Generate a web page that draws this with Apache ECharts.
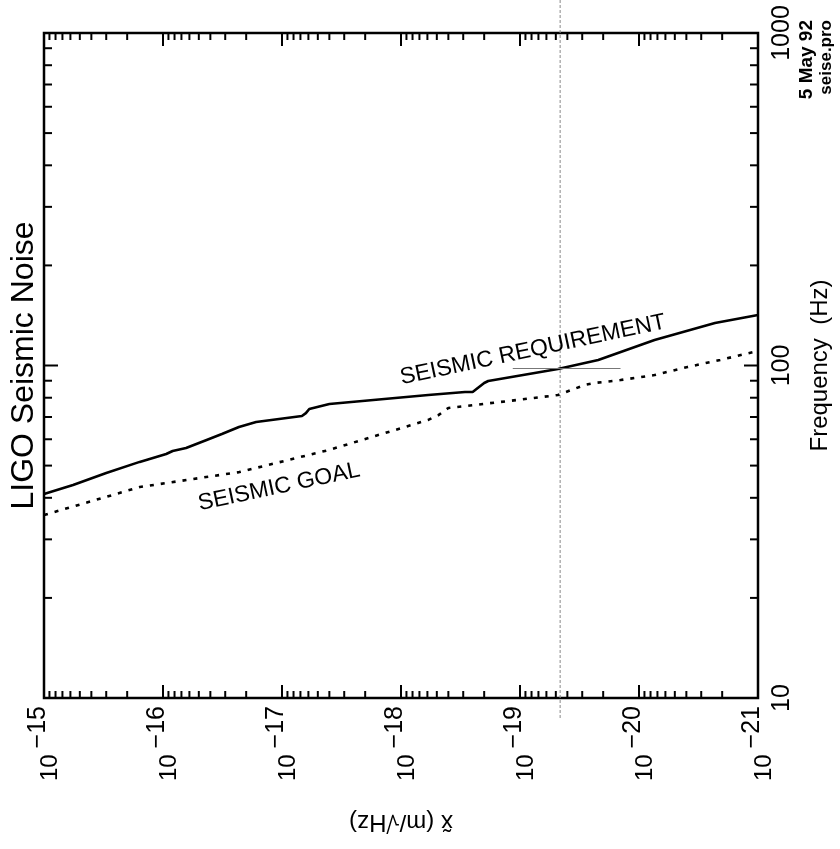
<!DOCTYPE html>
<html>
<head>
<meta charset="utf-8">
<script src="https://cdn.jsdelivr.net/npm/echarts@6/dist/echarts.min.js"></script>
<style>
  html, body { margin: 0; padding: 0; background: #fff; }
  #chart { width: 840px; height: 849px; }
</style>
</head>
<body>
<div id="chart"></div>
<script>
// displacement noise x~ (m/sqrt(Hz)) vs frequency (Hz), page is rotated
const requirement = [
  [1e-15, 41.1], [5.7e-16, 43.7], [3.0e-16, 47.5], [1.57e-16, 51.3],
  [9.4e-17, 54.2], [8.3e-17, 55.3], [6.4e-17, 56.5], [4.3e-17, 59.7],
  [3.2e-17, 62.2], [2.3e-17, 65.3], [1.65e-17, 67.6], [6.8e-18, 70.5],
  [6.3e-18, 71.9], [5.9e-18, 74.0], [4.0e-18, 76.6], [5.9e-19, 81.5],
  [2.9e-19, 83.2], [2.5e-19, 83.2], [2.0e-19, 88.6], [1.85e-19, 89.8],
  [4.8e-20, 97.6], [2.2e-20, 103.9], [7.4e-21, 119.3], [2.3e-21, 134.2],
  [1e-21, 141.9]
];
const goal = [
  [1e-15, 35.5], [1.57e-16, 43.1], [2.29e-17, 47.8], [4.04e-18, 55.7],
  [5.9e-19, 68.6], [4.85e-19, 70.9], [4.0e-19, 74.5], [1.04e-19, 78.8],
  [4.8e-20, 81.5], [2.86e-20, 87.4], [2.36e-20, 88.6], [1.43e-20, 90.4],
  [7.4e-21, 93.6], [3.9e-21, 99.0], [2.08e-21, 103.9], [1e-21, 110.6]
];
const ampExponents = [-15, -16, -17, -18, -19, -20, -21];
const freqDecades = [10, 100, 1000];
const markAmp = 4.6e-20;
const markFreq = 98;
const markSpan = [1.15e-19, 1.43e-20];

const FONT = 'Liberation Sans, Arial, sans-serif';

// echarts rounds to 20 decimals, so the amplitude axis runs in units of 1e-21 m
const UNIT_EXP = -21;
const toUnit = v => Number((v / Math.pow(10, UNIT_EXP)).toPrecision(6));
const scaled = arr => arr.map(p => [toUnit(p[0]), p[1]]);

// tick values: decades plus 2..9 multiples
const xTicks = [];
ampExponents.forEach((e, i) => {
  xTicks.push([toUnit(Math.pow(10, e)), 100, 1]);
  if (i < ampExponents.length - 1) {
    for (let k = 2; k <= 9; k++) xTicks.push([toUnit(k * Math.pow(10, e - 1)), 100, 0]);
  }
});
const yTicks = [];
freqDecades.forEach((d, i) => {
  yTicks.push([1000, d, 1]);
  if (i < freqDecades.length - 1) {
    for (let k = 2; k <= 9; k++) yTicks.push([1000, k * d, 0]);
  }
});

const chart = echarts.init(document.getElementById('chart'));

const option = {
  animation: false,
  backgroundColor: '#fff',
  grid: {
    left: 44, right: 79, top: 33, bottom: 151,
    show: true, borderColor: '#000', borderWidth: 2.5, backgroundColor: 'transparent'
  },
  xAxis: {
    type: 'log', logBase: 10,
    min: toUnit(Math.pow(10, ampExponents[ampExponents.length - 1])),
    max: toUnit(Math.pow(10, ampExponents[0])),
    interval: 1, inverse: true,
    axisLine: { show: false }, axisTick: { show: false }, splitLine: { show: false },
    axisLabel: {
      rotate: 90, margin: 8, color: '#000',
      formatter: v => '{b|10}{e|\u2212' + -(Math.round(Math.log10(v)) + UNIT_EXP) + '}',
      rich: {
        b: { fontFamily: FONT, fontSize: 24, color: '#000', padding: [13, 0, 0, 0] },
        e: { fontFamily: FONT, fontSize: 25, color: '#000', verticalAlign: 'top', padding: [0, 0, 0, 6] }
      }
    },
    name: 'x\u0303 (m/\u221AHz)', nameLocation: 'middle', nameRotate: 180, nameGap: 112,
    nameTextStyle: { fontFamily: FONT, fontSize: 24, color: '#000' }
  },
  yAxis: {
    type: 'log', logBase: 10, min: freqDecades[0], max: freqDecades[freqDecades.length - 1],
    interval: 1, position: 'right',
    axisLine: { show: false }, axisTick: { show: false }, splitLine: { show: false },
    axisLabel: { rotate: 90, margin: 12, fontFamily: FONT, fontSize: 25, color: '#000', formatter: v => String(v) },
    name: 'Frequency  (Hz)', nameLocation: 'middle', nameRotate: 90, nameGap: 50,
    nameTextStyle: { fontFamily: FONT, fontSize: 24, color: '#000' }
  },
  series: [
    {
      type: 'custom', data: xTicks, encode: { x: 0, y: 1 }, silent: true, z: 5,
      renderItem(params, api) {
        const x = api.coord([api.value(0), 100])[0];
        const cs = params.coordSys;
        const len = api.value(2) ? 13 : 7;
        const st = { stroke: '#000', lineWidth: 2 };
        return { type: 'group', children: [
          { type: 'line', shape: { x1: x, y1: cs.y + cs.height, x2: x, y2: cs.y + cs.height - len }, style: st },
          { type: 'line', shape: { x1: x, y1: cs.y, x2: x, y2: cs.y + len }, style: st }
        ] };
      }
    },
    {
      type: 'custom', data: yTicks, encode: { x: 0, y: 1 }, silent: true, z: 5,
      renderItem(params, api) {
        const y = api.coord([1000, api.value(1)])[1];
        const cs = params.coordSys;
        const len = api.value(2) ? 14 : 8;
        const st = { stroke: '#000', lineWidth: 2 };
        return { type: 'group', children: [
          { type: 'line', shape: { x1: cs.x, y1: y, x2: cs.x + len, y2: y }, style: st },
          { type: 'line', shape: { x1: cs.x + cs.width, y1: y, x2: cs.x + cs.width - len, y2: y }, style: st }
        ] };
      }
    },
    {
      name: 'SEISMIC REQUIREMENT', type: 'line', data: scaled(requirement), showSymbol: false,
      lineStyle: { color: '#000', width: 2.6 }, z: 3,
      markLine: {
        silent: true, symbol: 'none', label: { show: false },
        lineStyle: { color: '#777', width: 1, type: 'solid' },
        data: [[{ coord: [toUnit(markSpan[0]), markFreq] }, { coord: [toUnit(markSpan[1]), markFreq] }]]
      }
    },
    {
      name: 'SEISMIC GOAL', type: 'line', data: scaled(goal), showSymbol: false,
      lineStyle: { color: '#000', width: 2.6, type: [4, 7] }, z: 3
    }
  ]
};

chart.setOption(option);

// annotations; the stray vertical rule is placed via the axis scale
const mx = chart.convertToPixel({ xAxisIndex: 0 }, toUnit(markAmp));
const deg = Math.PI / 180;
chart.setOption({
  graphic: [
    { type: 'line', shape: { x1: mx, y1: 0, x2: mx, y2: 720 }, silent: true,
      style: { stroke: '#888', lineWidth: 1, lineDash: [3, 2] } },
    { type: 'text', x: 24, y: 365.5, rotation: 90 * deg,
      style: { text: 'LIGO Seismic Noise', fontFamily: FONT, fontSize: 32, fill: '#000', align: 'center', verticalAlign: 'middle' } },
    { type: 'text', x: 533, y: 350, rotation: 12 * deg,
      style: { text: 'SEISMIC REQUIREMENT', fontFamily: FONT, fontSize: 23, fill: '#000', align: 'center', verticalAlign: 'middle' } },
    { type: 'text', x: 279, y: 487, rotation: 12 * deg,
      style: { text: 'SEISMIC GOAL', fontFamily: FONT, fontSize: 23, fill: '#000', align: 'center', verticalAlign: 'middle' } },
    { type: 'text', x: 807, y: 20, rotation: 90 * deg,
      style: { text: '5 May 92', fontFamily: FONT, fontSize: 19, fontWeight: 'bold', fill: '#000', align: 'right', verticalAlign: 'middle' } },
    { type: 'text', x: 826, y: 20, rotation: 90 * deg,
      style: { text: 'seise.pro', fontFamily: FONT, fontSize: 17, fontWeight: 'bold', fill: '#000', align: 'right', verticalAlign: 'middle' } }
  ]
});

window.addEventListener('resize', chart.resize);
</script>
</body>
</html>
